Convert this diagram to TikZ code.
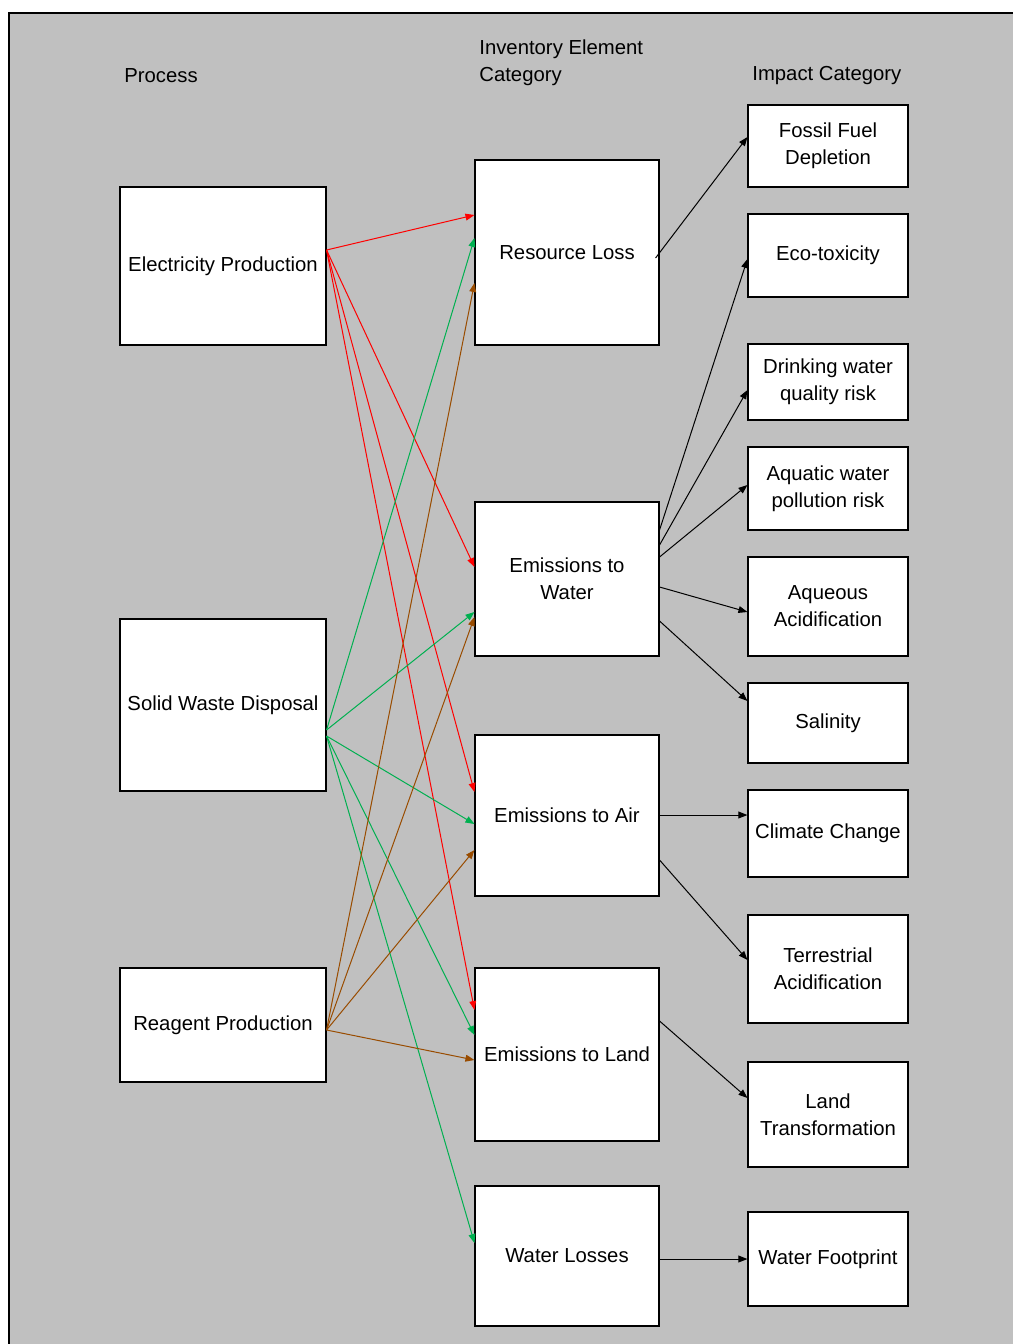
\documentclass[tikz,border=0pt]{standalone}
\usepackage{fontspec}
\setmainfont{Liberation Sans}
\usetikzlibrary{arrows.meta}
\definecolor{panel}{RGB}{192,192,192}
\definecolor{flowred}{RGB}{255,0,0}
\definecolor{flowgreen}{RGB}{0,176,80}
\definecolor{flowbrown}{RGB}{153,76,0}
\begin{document}
\begin{tikzpicture}[x=0.5pt,y=-0.5pt,
  box/.style={draw=black,line width=0.55pt,fill=white,align=center,inner sep=1pt,
    font=\fontsize{10.15}{13.5}\selectfont},
  procbox/.style={box,minimum width=103pt},
  invbox/.style={box,minimum width=92pt},
  impbox/.style={box,minimum width=80pt},
  head/.style={font=\fontsize{10.15}{13.5}\selectfont,align=left,inner sep=0pt,anchor=west},
  link/.style={line width=0.5pt,-{Triangle[length=4.5pt,width=3.4pt]}},
  red link/.style={link,flowred},
  green link/.style={link,flowgreen},
  brown link/.style={link,flowbrown},
  black link/.style={link,black}]
\useasboundingbox (0,0) rectangle (1013,1344);
% background panel with a rule along its top and left edges
\fill[panel] (9,13) rectangle (1013,1344);
\draw[line width=0.8pt] (9,1344) -- (9,13) -- (1013,13);

% column headings
\node[head] (hproc) at (124,76) {Process};
\node[head] (hinv) at (479,62.5) {Inventory Element\\Category};
\node[head] (himp) at (752,76) {Impact Category};

% processes
\node[procbox,minimum height=79pt] (ep) at (223,266) {Electricity Production};
\node[procbox,minimum height=86pt] (sw) at (223,705) {Solid Waste Disposal};
\node[procbox,minimum height=57pt] (rp) at (223,1025) {Reagent Production};

% inventory element categories
\node[invbox,minimum height=92.5pt] (rl) at (567,252.5) {Resource Loss};
\node[invbox,minimum height=77pt] (ew) at (567,579) {Emissions to\\Water};
\node[invbox,minimum height=80.5pt] (ea) at (567,815.5) {Emissions to Air};
\node[invbox,minimum height=86.5pt] (el) at (567,1054.5) {Emissions to Land};
\node[invbox,minimum height=70pt] (wl) at (567,1256) {Water Losses};

% impact categories
\node[impbox,minimum height=41pt] (ff) at (828,146) {Fossil Fuel\\Depletion};
\node[impbox,minimum height=41.5pt] (et) at (828,255.5) {Eco-toxicity};
\node[impbox,minimum height=38pt] (dw) at (828,382) {Drinking water\\quality risk};
\node[impbox,minimum height=41.5pt] (aw) at (828,488.5) {Aquatic water\\pollution risk};
\node[impbox,minimum height=49.5pt] (aa) at (828,606.5) {Aqueous\\Acidification};
\node[impbox,minimum height=40pt] (sa) at (828,723) {Salinity};
\node[impbox,minimum height=43.5pt] (cc) at (828,833.5) {Climate Change};
\node[impbox,minimum height=54pt] (ta) at (828,969) {Terrestrial\\Acidification};
\node[impbox,minimum height=52.5pt] (lt) at (828,1114.5) {Land\\Transformation};
\node[impbox,minimum height=47pt] (wf) at (828,1259) {Water Footprint};

% electricity production flows
\draw[red link] ([yshift=8pt]ep.east) -- ([yshift=18.75pt]rl.west);
\draw[red link] ([yshift=8pt]ep.east) -- ([yshift=6pt]ew.west);
\draw[red link] ([yshift=8pt]ep.east) -- ([yshift=11.75pt]ea.west);
\draw[red link] ([yshift=8pt]ep.east) -- ([yshift=22.25pt]el.west);

% solid waste disposal flows
\draw[green link] ([yshift=-12.5pt]sw.east) -- ([yshift=7.25pt]rl.west);
\draw[green link] ([yshift=-12.5pt]sw.east) -- ([yshift=-16.5pt]ew.west);
\draw[green link] ([yshift=-15.5pt]sw.east) -- ([yshift=-4.25pt]ea.west);
\draw[green link] ([yshift=-15.5pt]sw.east) -- ([yshift=9.75pt]el.west);
\draw[green link] ([yshift=-15.5pt]sw.east) -- ([yshift=6.5pt]wl.west);

% reagent production flows
\draw[brown link] ([yshift=-2.5pt]rp.east) -- ([yshift=-15.25pt]rl.west);
\draw[brown link] ([yshift=-2.5pt]rp.east) -- ([yshift=-19pt]ew.west);
\draw[brown link] ([yshift=-2.5pt]rp.east) -- ([yshift=-17.25pt]ea.west);
\draw[brown link] ([yshift=-2.5pt]rp.east) -- ([yshift=-2.75pt]el.west);

% inventory to impact links
\draw[black link] ([xshift=-2pt,yshift=-2.75pt]rl.east) -- ([yshift=4.5pt]ff.west);
\draw[black link] ([yshift=24.5pt]ew.east) -- ([yshift=-1.75pt]et.west);
\draw[black link] ([yshift=17pt]ew.east) -- ([yshift=-4pt]dw.west);
\draw[black link] ([yshift=11pt]ew.east) -- ([yshift=1.75pt]aw.west);
\draw[black link] ([yshift=-4pt]ew.east) -- ([yshift=-2.75pt]aa.west);
\draw[black link] ([yshift=-21pt]ew.east) -- ([yshift=11pt]sa.west);
\draw[black link] ([yshift=0.25pt]ea.east) -- ([yshift=9.25pt]cc.west);
\draw[black link] ([yshift=-22.25pt]ea.east) -- ([yshift=4.5pt]ta.west);
\draw[black link] ([yshift=16.75pt]el.east) -- ([yshift=8.25pt]lt.west);
\draw[black link] ([yshift=-1.5pt]wl.east) -- (wf.west);
\end{tikzpicture}
\end{document}
